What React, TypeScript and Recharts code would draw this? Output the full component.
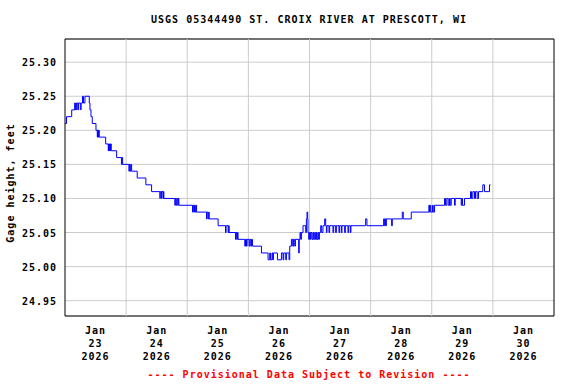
import React from 'react';
import { LineChart, Line, XAxis, YAxis, CartesianGrid, ReferenceLine, ReferenceArea, Label } from 'recharts';

// hours since Jan 23 2026 00:00
const hours = [
  0.0, 0.59, 2.63, 3.8, 4.04, 4.24, 4.59, 4.75, 5.22, 5.37, 6.16, 6.31, 6.86, 7.25, 7.84,
  9.53, 9.8, 10.2, 10.71, 12.16, 12.67, 12.82, 13.06, 13.22, 13.45, 15.96, 16.98, 17.14, 17.37,
  17.53, 17.76, 17.92, 18.16, 20.27, 22.16, 22.35, 22.63, 25.1, 25.29, 25.61, 25.88, 26.16,
  28.35, 31.76, 34.0, 37.25, 37.41, 37.92, 38.04, 38.55, 38.67, 38.82, 43.14, 43.33, 43.65,
  43.92, 44.31, 44.47, 44.71,
  50.08, 50.31, 50.59, 50.86, 51.1, 51.37, 51.65, 55.57, 55.8, 56.2, 56.47, 56.59, 60.12,
  63.02, 63.25, 64.04, 64.31, 64.43, 66.94, 67.17, 67.45, 67.72, 67.96, 70.59, 70.86, 71.26,
  71.49, 72.28, 72.55, 72.94, 73.22, 73.61, 77.14, 79.73, 80.39, 80.67, 81.29, 81.57, 81.84,
  83.41, 84.98, 85.61, 85.88, 86.67, 86.94, 87.96, 88.24, 88.9, 89.41, 89.69, 90.2, 90.47,
  91.76, 91.96, 92.27, 92.55, 92.82, 93.45, 94.51, 94.78, 95.02, 95.29, 95.41,
  95.69, 95.96, 96.35, 96.59, 96.98, 97.37, 97.65, 98.04, 98.31, 98.71, 98.94, 99.33, 99.61,
  99.88, 100.39, 100.78, 101.29, 101.96, 102.35, 102.63, 102.86, 103.65, 103.92, 105.22,
  105.49, 106.27, 106.55, 107.57, 107.84, 108.51, 108.75, 109.8, 110.08, 111.1, 111.37,
  112.04, 112.27, 118.04, 118.55, 125.1, 125.49, 125.76, 126.0, 126.16, 128.24, 128.51,
  132.43, 132.82, 135.96, 142.86, 143.14, 143.41, 143.65, 144.31, 144.59, 145.1, 149.02,
  149.41, 149.92, 150.47, 150.98, 151.25, 151.65, 152.94, 153.22, 155.57, 155.8, 156.08,
  156.86, 159.22, 159.61, 160.12, 160.78, 161.18, 161.84, 162.35, 164.04, 164.71, 166.67,
  167.06,
];

// gage height, feet
const gage = [
  25.21, 25.22, 25.23, 25.24, 25.23, 25.24, 25.23, 25.24, 25.23, 25.24, 25.23, 25.24, 25.25, 25.24, 25.25,
  25.24, 25.23, 25.22, 25.21, 25.2, 25.19, 25.2, 25.19, 25.2, 25.19, 25.18, 25.17, 25.18, 25.17,
  25.18, 25.17, 25.18, 25.17, 25.16, 25.15, 25.16, 25.15, 25.14, 25.15, 25.14, 25.15, 25.14,
  25.13, 25.12, 25.11, 25.1, 25.11, 25.1, 25.11, 25.1, 25.11, 25.1, 25.09, 25.1, 25.09,
  25.1, 25.09, 25.1, 25.09,
  25.08, 25.09, 25.08, 25.09, 25.08, 25.09, 25.08, 25.07, 25.08, 25.07, 25.08, 25.07, 25.06,
  25.05, 25.06, 25.05, 25.06, 25.05, 25.04, 25.05, 25.04, 25.05, 25.04, 25.03, 25.04, 25.03,
  25.04, 25.03, 25.04, 25.03, 25.04, 25.03, 25.02, 25.01, 25.02, 25.01, 25.02, 25.01, 25.02,
  25.01, 25.02, 25.01, 25.02, 25.01, 25.02, 25.01, 25.03, 25.04, 25.03, 25.04, 25.03, 25.04,
  25.02, 25.04, 25.05, 25.04, 25.05, 25.06, 25.05, 25.07, 25.08, 25.07, 25.05,
  25.04, 25.05, 25.04, 25.05, 25.04, 25.05, 25.04, 25.05, 25.04, 25.05, 25.04, 25.05, 25.04,
  25.05, 25.06, 25.05, 25.06, 25.07, 25.06, 25.05, 25.06, 25.05, 25.06, 25.05,
  25.06, 25.05, 25.06, 25.05, 25.06, 25.05, 25.06, 25.05, 25.06, 25.05, 25.06,
  25.05, 25.06, 25.07, 25.06, 25.07, 25.06, 25.07, 25.06, 25.07, 25.06, 25.07,
  25.08, 25.07, 25.08, 25.09, 25.08, 25.09, 25.08, 25.09, 25.08, 25.09, 25.1,
  25.09, 25.1, 25.09, 25.1, 25.09, 25.1, 25.09, 25.1, 25.09, 25.1, 25.09,
  25.1, 25.11, 25.1, 25.11, 25.1, 25.11, 25.1, 25.11, 25.12, 25.11, 25.12,
  25.12,
];

const xTicks = [12, 36, 60, 84, 108, 132, 156, 180];
const xTickDays = ['23', '24', '25', '26', '27', '28', '29', '30'];
const xGrid = [24, 48, 72, 96, 120, 144, 168];
const yTicks = [24.95, 25.0, 25.05, 25.1, 25.15, 25.2, 25.25, 25.3];
const xDomain = [0, 192];
const yDomain = [24.9275, 25.334];

const title = 'USGS 05344490 ST. CROIX RIVER AT PRESCOTT, WI';
const yLabel = 'Gage height, feet';
const footer = '---- Provisional Data Subject to Revision ----';

const data = hours.map((h, i) => ({ h, v: gage[i] }));

const FONT = '"DejaVu Sans Mono", monospace';
const textStyle = { fontFamily: FONT, fontWeight: 'bold' as const, fontSize: 10, letterSpacing: 1 };

const XTick = (props: any) => {
  const { x, y, payload } = props;
  const idx = xTicks.indexOf(payload.value);
  return (
    <text x={x} y={y} textAnchor="middle" fill="#000" style={textStyle}>
      <tspan x={x} dy={18}>Jan</tspan>
      <tspan x={x} dy={12.7}>{xTickDays[idx]}</tspan>
      <tspan x={x} dy={13.3}>2026</tspan>
    </text>
  );
};

const YTick = (props: any) => {
  const { x, y, payload } = props;
  return (
    <text x={x} y={y} dy={4} textAnchor="end" fill="#000" style={textStyle}>
      {Number(payload.value).toFixed(2)}
    </text>
  );
};

export default function App() {
  return (
    <div style={{ position: 'absolute', left: 0, top: 0, width: 576, height: 384, background: '#fff' }}>
      <LineChart width={576} height={384} data={data} margin={{ top: 39, right: 22, bottom: 0, left: 0 }}>
        <CartesianGrid vertical={false} stroke="#cccccc" strokeWidth={1} />
        {xGrid.map((g) => (
          <ReferenceLine key={g} x={g} stroke="#cccccc" strokeWidth={1} />
        ))}
        <XAxis
          type="number"
          dataKey="h"
          domain={xDomain}
          ticks={xTicks}
          tick={<XTick />}
          tickLine={false}
          axisLine={false}
          tickSize={0}
          tickMargin={0}
          height={68}
          interval={0}
          allowDataOverflow
        >
          <Label
            content={() => (
              <g>
                <text x={309} y={23.3} textAnchor="middle" fill="#000" style={textStyle}>{title}</text>
                <text x={309} y={377.5} textAnchor="middle" fill="#ff0000" style={textStyle}>{footer}</text>
              </g>
            )}
          />
        </XAxis>
        <YAxis
          type="number"
          domain={yDomain}
          ticks={yTicks}
          tick={<YTick />}
          tickLine={false}
          axisLine={false}
          tickSize={0}
          tickMargin={8}
          width={65}
          interval={0}
          allowDataOverflow
        >
          <Label
            content={() => (
              <text transform="translate(13.5,183) rotate(-90)" textAnchor="middle" fill="#000" style={textStyle}>
                {yLabel}
              </text>
            )}
          />
        </YAxis>
        <Line
          type="stepAfter"
          dataKey="v"
          stroke="#0000ff"
          strokeWidth={1}
          dot={false}
          activeDot={false}
          isAnimationActive={false}
        />
        <ReferenceArea x1={xDomain[0]} x2={xDomain[1]} y1={yDomain[0]} y2={yDomain[1]} fill="none" stroke="#000" strokeWidth={1} fillOpacity={0} />
      </LineChart>
    </div>
  );
}
